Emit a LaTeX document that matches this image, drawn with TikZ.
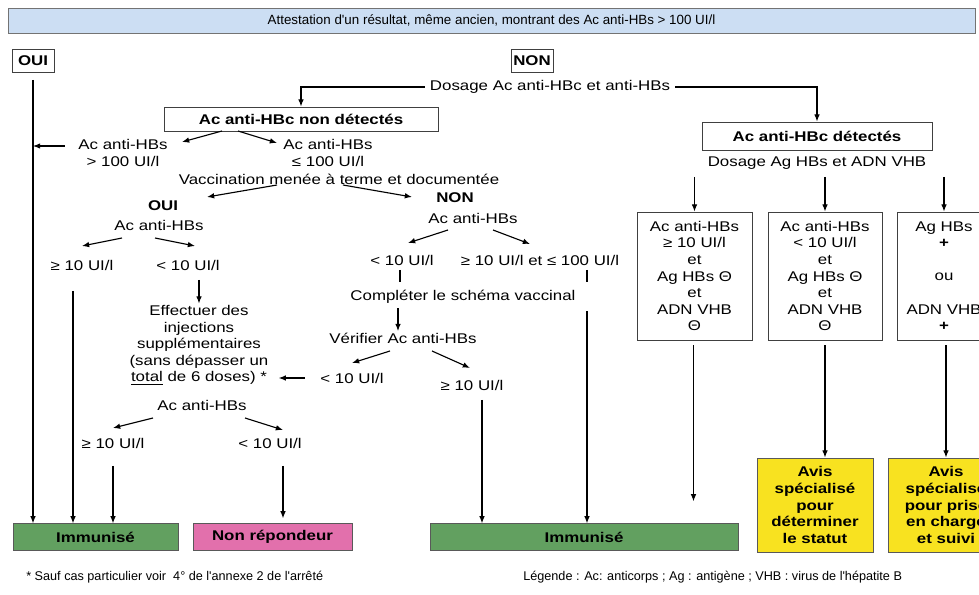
\documentclass[tikz,border=0pt]{standalone}
\usepackage{fontspec}
\setmainfont{Liberation Sans}[FakeStretch=1.2]
\newfontfamily\narrowfont{Liberation Sans}
\usetikzlibrary{calc,arrows.meta}

\definecolor{bannerblue}{RGB}{204,222,243}
\definecolor{immgreen}{RGB}{98,160,96}
\definecolor{nonpink}{RGB}{226,112,172}
\definecolor{avisyellow}{RGB}{248,226,32}

\tikzset{
	arr/.style={line width=0.8pt,-{Latex[length=1.8mm,width=1.4mm]}},
	ln/.style={line width=0.8pt},
	txt/.style={align=center,inner sep=1pt,font=\fontsize{10}{11.8}\selectfont},
	btxt/.style={txt,font=\bfseries\fontsize{10}{11.8}\selectfont},
	bx/.style={txt,draw=black!75,line width=0.6pt,inner sep=0pt},
	hdr/.style={bx,font=\bfseries\fontsize{10}{11.8}\selectfont},
	fin/.style={hdr,draw=black!65,minimum height=6.6mm},
	foot/.style={anchor=west,inner sep=0pt,font=\narrowfont\fontsize{9}{11}\selectfont},
}

\begin{document}
\begin{tikzpicture}[x=0.25mm,y=-0.25mm]
			%%%%% START %%%%%
			\useasboundingbox (0,0) rectangle (979,595);
			\clip (0,0) rectangle (979,595);
			
			\node[draw=black!55,fill=bannerblue,minimum width=241.75mm,minimum height=6.25mm,font=\narrowfont\fontsize{9.5}{11}\selectfont] (title) at (491.5,20.5) {Attestation d'un résultat, même ancien, montrant des Ac anti-HBs > 100 UI/l};
			
			\node[hdr,minimum width=10.5mm,minimum height=5.75mm] (oui) at (33,61) {OUI};
			\node[hdr,minimum width=10.5mm,minimum height=5.75mm] (non) at (532,61) {NON};
			
			\node[txt,inner sep=1.2mm] (dos) at (550,87) {Dosage Ac anti-HBc et anti-HBs};
			\node[hdr,minimum width=68.5mm,minimum height=6mm] (nondet) at (301,119) {Ac anti-HBc non détectés};
			\node[hdr,minimum width=57.5mm,minimum height=7mm] (det) at (817,136) {Ac anti-HBc détectés};
			\draw[arr] (dos.west) -| (nondet.north);
			\draw[arr] (dos.east) -| (det.north);
			
			% bottom boxes
			\node[fin,fill=immgreen,minimum width=41.25mm] (imm1) at (95.5,537) {Immunisé};
			\node[fin,fill=nonpink,minimum width=39.75mm] (nonrep) at (272.5,537) {Non répondeur};
			\node[fin,fill=immgreen,minimum width=77mm] (imm2) at (584,537) {Immunisé};
			\node[fin,fill=avisyellow,minimum width=29mm,minimum height=23.5mm] (avis1) at (815,505) {Avis\\spécialisé\\pour\\déterminer\\le statut};
			\node[fin,fill=avisyellow,minimum width=29mm,minimum height=23.5mm] (avis2) at (946,505) {Avis\\spécialisé\\pour prise\\en charge\\et suivi};
			
			% OUI
			\draw[arr] ($(oui.south)+(0,7)$) -- (oui.south |- imm1.north);
			
			% Ac anti-HBc non detectes
			\node[txt] (anti1) at (123,153) {Ac anti-HBs\\> 100 UI/l};
			\node[txt] (anti2) at (328,153) {Ac anti-HBs\\≤ 100 UI/l};
			\draw[arr] ($(nondet)+(-79,12)$) -- ($(anti1)+(59,-11)$);
			\draw[arr] ($(nondet)+(-63,12)$) -- ($(anti2)+(-51,-10)$);
			\coordinate (a1) at ($(anti1.west)+(-12,-7)$);
			\draw[arr] (a1) -- (a1 -| oui.south);
			
			\node[txt] (vacc) at (339,179) {Vaccination menée à terme et documentée};
			\node[btxt] (oui2) at (163,206) {OUI};
			\node[btxt] (non2) at (455,198) {NON};
			\draw[arr] ($(vacc)+(-62,6)$) -- ($(oui2)+(44,-9)$);
			\draw[arr] ($(vacc)+(4,6)$) -- ($(non2)+(-43,-1)$);
			
			% branche OUI
			\node[txt] (acv1) at (159,225) {Ac anti-HBs};
			\node[txt] (ge1) at (82,265) {≥ 10 UI/l};
			\node[txt] (lt1) at (188,265) {< 10 UI/l};
			\draw[arr] ($(acv1)+(-37,13)$) -- ($(ge1)+(0,-19)$);
			\draw[arr] ($(acv1)+(-4,13)$) -- ($(lt1)+(7,-19)$);
			
			\node[txt] (eff) at (199,345) {Effectuer des\\injections\\supplémentaires\\(sans dépasser un\\\underline{total} de 6 doses) *};
			\draw[arr] ($(eff.north |- lt1.south)+(0,8)$) -- (eff.north);
			
			\node[txt] (acv3) at (202,405) {Ac anti-HBs};
			\node[txt] (ge3) at (113,443) {≥ 10 UI/l};
			\node[txt] (lt4) at (270,443) {< 10 UI/l};
			\draw[arr] ($(acv3)+(-49,13)$) -- ($(ge3)+(0,-15)$);
			\draw[arr] ($(acv3)+(43,13)$) -- ($(lt4)+(13,-13)$);
			
			\coordinate (g1) at ($(ge1.south)+(-9,0)$);
			\draw[arr] ($(g1)+(0,19)$) -- (g1 |- imm1.north);
			\draw[arr] ($(ge3.south)+(0,16)$) -- (ge3.south |- imm1.north);
			\coordinate (l4) at ($(lt4.south)+(13,0)$);
			\draw[arr] ($(l4)+(0,16)$) -- ($(l4 |- nonrep.north)+(0,-5)$);
			
			% branche NON
			\node[txt] (acv2) at (473,218) {Ac anti-HBs};
			\node[txt] (lt2) at (402,260) {< 10 UI/l};
			\node[txt] (mid) at (540,260) {≥ 10 UI/l et ≤ 100 UI/l};
			\draw[arr] ($(acv2)+(-25,12)$) -- ($(lt2)+(6,-17)$);
			\draw[arr] ($(acv2)+(20,12)$) -- ($(mid)+(-10,-16)$);
			
			\node[txt] (comp) at (463,297) {Compléter le schéma vaccinal};
			\node[txt] (ver) at (403,338) {Vérifier Ac anti-HBs};
			\draw[ln] ($(lt2.south)+(-2,3)$) -- ($(lt2.south)+(-2,15)$);
			\draw[arr] ($(lt2.south |- comp.south)+(-4,3)$) -- ($(lt2.south |- ver.north)+(-4,0)$);
			
			\node[txt] (lt3) at (352,378) {< 10 UI/l};
			\node[txt] (ge2) at (472,385) {≥ 10 UI/l};
			\draw[arr] ($(ver)+(-13,13)$) -- ($(lt3)+(0,-15)$);
			\draw[arr] ($(ver)+(29,13)$) -- ($(ge2)+(-2,-17)$);
			\draw[arr] ($(lt3.west)+(-14,0)$) -- ($(lt3.west)+(-40,0)$);
			
			\coordinate (g2) at ($(ge2.south)+(10,0)$);
			\draw[arr] ($(g2)+(0,8)$) -- (g2 |- imm2.north);
			\coordinate (m1) at ($(mid.south)+(47,0)$);
			\draw[ln] ($(m1)+(0,3)$) -- ($(m1)+(0,15)$);
			\draw[arr] ($(m1 |- comp.south)+(0,6)$) -- (m1 |- imm2.north);
			
			% Ac anti-HBc detectes
			\node[txt] (dosag) at (817,163) {Dosage Ag HBs et ADN VHB};
			\node[bx,minimum width=28.75mm,minimum height=32mm] (box1) at (694.5,276) {Ac anti-HBs\\≥ 10 UI/l\\et\\Ag HBs Θ\\et\\ADN VHB\\Θ};
			\node[bx,minimum width=28.5mm,minimum height=32mm] (box2) at (825,276) {Ac anti-HBs\\< 10 UI/l\\et\\Ag HBs Θ\\et\\ADN VHB\\Θ};
			\node[bx,minimum width=23.5mm,minimum height=32mm] (box3) at (944,276) {Ag HBs\\\textbf{+}\\[11.8pt]ou\\[11.8pt]ADN VHB\\\textbf{+}};
			
			\draw[arr] (box1.north |- dosag.south) ++(0,6) -- (box1.north);
			\draw[arr] (box2.north |- dosag.south) ++(0,6) -- (box2.north);
			\draw[arr] (box3.north |- dosag.south) ++(0,6) -- (box3.north);
			
			\coordinate (imm2tip) at ($(box1.south |- imm2.north)+(-1,-22)$);
			\draw[arr] ($(box1.south)+(-1,5)$) -- (imm2tip);
			\draw[arr] ($(box2.south)+(0,5)$) -- (box2.south |- avis1.north);
			\draw[arr] ($(box3.south)+(2,5)$) -- ($(box3.south |- avis2.north)+(2,0)$);
			
			% notes
			\node[foot] (note) at (26,577) {* Sauf cas particulier voir~ 4° de l'annexe 2 de l'arrêté};
			\node[foot] (leg) at (523,577) {Légende : Ac: anticorps ; Ag : antigène ; VHB : virus de l'hépatite B};
			
			%%%%% END %%%%%
\end{tikzpicture}
\end{document}
